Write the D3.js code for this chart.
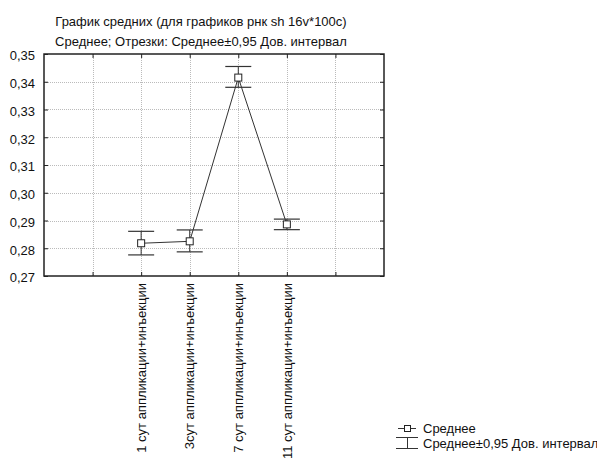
<!DOCTYPE html>
<html><head><meta charset="utf-8">
<script src="https://cdn.jsdelivr.net/npm/d3@7"></script>
<style>body{margin:0;background:#fff;} svg{display:block;font-family:"Liberation Sans",Arial,sans-serif;}</style>
</head><body>
<svg id="c" width="597" height="463"></svg>
<script>
const categories = ["1 сут аппликации+инъекции","3сут аппликации+инъекции","7 сут аппликации+инъекции","11 сут аппликации+инъекции"];
const means = [0.2818, 0.2825, 0.3415, 0.2886];
const lower = [0.2776, 0.2787, 0.3380, 0.2867];
const upper = [0.2861, 0.2866, 0.3455, 0.2905];
const yTicks = [0.27,0.28,0.29,0.30,0.31,0.32,0.33,0.34,0.35];
const xGrid = [0,1,2,3,4,5];
const titleLines = ["График средних (для графиков рнк sh 16v*100c)","Среднее; Отрезки: Среднее±0,95 Дов. интервал"];
const legendItems = ["Среднее","Среднее±0,95 Дов. интервал"];

const svg = d3.select("#c");
const L=44, R=384, T=54, B=276;
const x = d3.scaleLinear().domain([-1,6]).range([L,R]);
const y = d3.scaleLinear().domain([0.27,0.35]).range([B,T]);

svg.selectAll("text.title").data(titleLines).enter().append("text")
  .attr("x",201).attr("y",(d,i)=>26+i*19.5).attr("text-anchor","middle")
  .attr("font-size",13).attr("fill","#111").text(d=>d);

// grid
const g = svg.append("g");
g.selectAll("line.gy").data(yTicks.slice(1,-1)).enter().append("line")
  .attr("x1",L).attr("x2",R).attr("y1",d=>Math.round(y(d))+0.5).attr("y2",d=>Math.round(y(d))+0.5)
  .attr("stroke","#bbb").attr("stroke-dasharray","1,1");
g.selectAll("line.gx").data(xGrid).enter().append("line")
  .attr("y1",T).attr("y2",B).attr("x1",d=>Math.round(x(d))+0.5).attr("x2",d=>Math.round(x(d))+0.5)
  .attr("stroke","#bbb").attr("stroke-dasharray","1,1");

// axes (ticks inward)
const yAxis = d3.axisLeft(y).tickValues(yTicks).tickSize(-4).tickPadding(9)
  .tickFormat(d=>d3.format(".2f")(d).replace(".",","));
const ya = svg.append("g").attr("transform",`translate(${L},0)`).call(yAxis);
ya.select(".domain").remove();
ya.selectAll("text").attr("font-size",13).attr("fill","#111").attr("font-family","Liberation Sans, Arial").attr("dy","0.45em");
const yAxisR = d3.axisRight(y).tickValues(yTicks).tickSize(-4).tickFormat("");
const yr = svg.append("g").attr("transform",`translate(${R},0)`).call(yAxisR);
yr.select(".domain").remove();

const xAxisB = d3.axisBottom(x).tickValues(xGrid).tickSize(-4).tickFormat("");
const xb = svg.append("g").attr("transform",`translate(0,${B})`).call(xAxisB);
xb.select(".domain").remove();
const xAxisT = d3.axisTop(x).tickValues(xGrid).tickSize(-4).tickFormat("");
const xt = svg.append("g").attr("transform",`translate(0,${T})`).call(xAxisT);
xt.select(".domain").remove();
svg.selectAll(".tick line").attr("stroke","#222");

svg.append("rect").attr("x",L).attr("y",T).attr("width",R-L).attr("height",B-T)
  .attr("fill","none").attr("stroke","#222").attr("stroke-width",1.5);

// x category labels
svg.selectAll("text.xl").data(categories).enter().append("text")
  .attr("transform",(d,i)=>`translate(${x(i+1)},${B+7}) rotate(-90)`)
  .attr("dy","0.36em")
  .attr("text-anchor","end").attr("font-size",13)
  .attr("fill","#111").text(d=>d);

// line
const line = d3.line().x((d,i)=>x(i+1)).y(d=>y(d));
svg.append("path").attr("d",line(means)).attr("fill","none").attr("stroke","#333").attr("stroke-width",1);

// error bars
const eb = svg.append("g");
means.forEach((m,i)=>{
  const cx = x(i+1);
  eb.append("line").attr("x1",cx).attr("x2",cx).attr("y1",y(lower[i])).attr("y2",y(upper[i])).attr("stroke","#333");
  [lower[i],upper[i]].forEach(v=>{
    eb.append("line").attr("x1",cx-13).attr("x2",cx+13).attr("y1",y(v)).attr("y2",y(v)).attr("stroke","#333").attr("stroke-width",1.2);
  });
});
svg.selectAll("rect.pt").data(means).enter().append("rect")
  .attr("x",(d,i)=>x(i+1)-3.5).attr("y",d=>y(d)-3.5).attr("width",7).attr("height",7)
  .attr("fill","#fff").attr("stroke","#222");

// legend
const lg = svg.append("g");
lg.append("line").attr("x1",398).attr("x2",416).attr("y1",428.5).attr("y2",428.5).attr("stroke","#333");
lg.append("rect").attr("x",404.5).attr("y",425.5).attr("width",6).attr("height",6).attr("fill","#fff").attr("stroke","#222");
lg.append("line").attr("x1",396).attr("x2",418).attr("y1",437.5).attr("y2",437.5).attr("stroke","#333");
lg.append("line").attr("x1",396).attr("x2",418).attr("y1",448.5).attr("y2",448.5).attr("stroke","#333");
lg.append("line").attr("x1",407.5).attr("x2",407.5).attr("y1",437.5).attr("y2",448.5).attr("stroke","#333");
lg.selectAll("text").data(legendItems).enter().append("text")
  .attr("x",423).attr("y",(d,i)=>433+i*14.5).attr("font-size",13).attr("fill","#111").text(d=>d);
</script>
</body></html>
